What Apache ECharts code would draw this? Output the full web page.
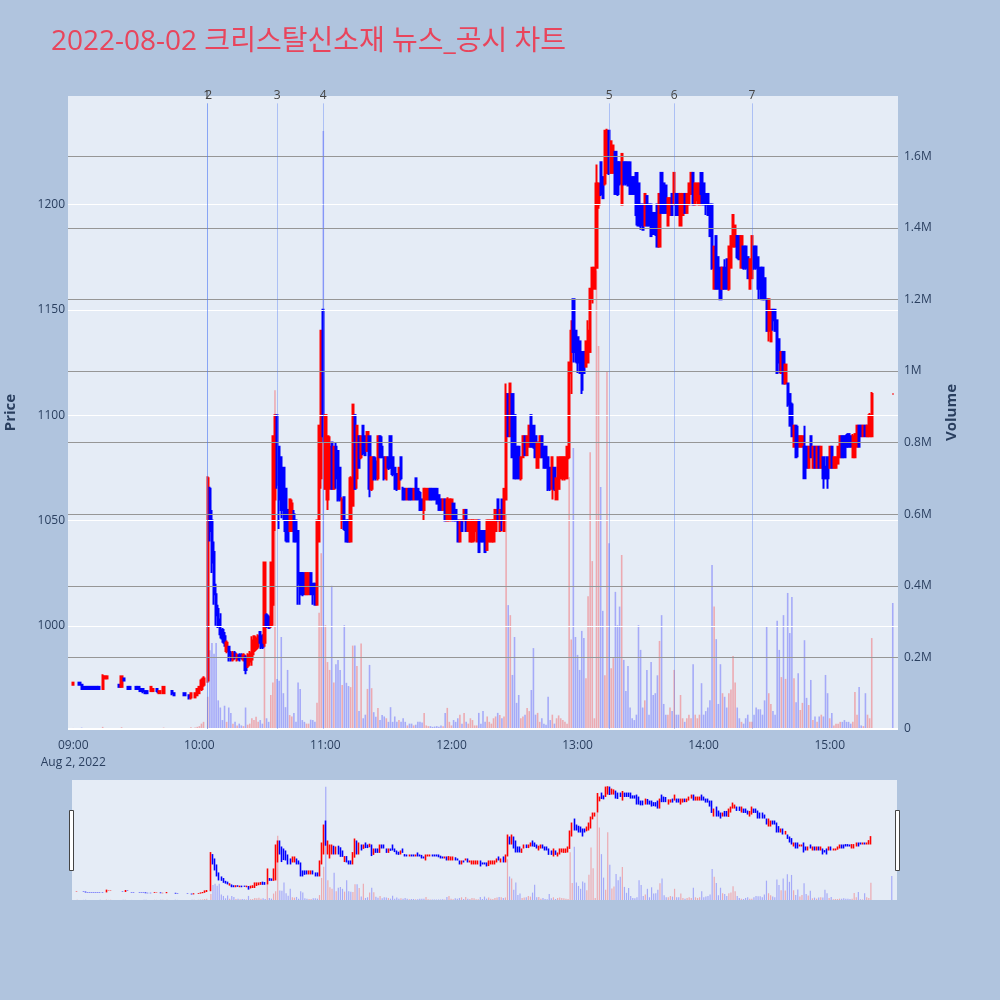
<!DOCTYPE html>
<html><head><meta charset="utf-8">
<script src="https://cdn.jsdelivr.net/npm/echarts@6/dist/echarts.min.js"></script>
<style>html,body{margin:0;padding:0;background:#B0C4DE;}#c{width:1000px;height:1000px;}</style>
</head><body><div id="c"></div>
<script>
// ---- data ----
const times = [
'09:00','09:03','09:04','09:05','09:06','09:07','09:08','09:09','09:10','09:11',
'09:12','09:14','09:15','09:16','09:22','09:23','09:24','09:26','09:27','09:30',
'09:31','09:32','09:33','09:34','09:35','09:37','09:38','09:40','09:41','09:43',
'09:47','09:48','09:53','09:55','09:56','09:58','09:59','10:00','10:01','10:02',
'10:04','10:05','10:06','10:07','10:08','10:09',
'10:10','10:11','10:12','10:13','10:14','10:15','10:16','10:17','10:18','10:19',
'10:20','10:21','10:22','10:23','10:24','10:25','10:26','10:27','10:28','10:29',
'10:30','10:31','10:32','10:33','10:34','10:35','10:36','10:37','10:38','10:39',
'10:40','10:41','10:42','10:43','10:44','10:45','10:46','10:47','10:48','10:49',
'10:50','10:51','10:52','10:53','10:54','10:55','10:56','10:57','10:58','10:59',
'11:00','11:01','11:02','11:03','11:04','11:05','11:06','11:07','11:08','11:09',
'11:10','11:11','11:12','11:13','11:14','11:15','11:16','11:17','11:18','11:19',
'11:20','11:21','11:22','11:23','11:24','11:25','11:26','11:27','11:28','11:29',
'11:30','11:31','11:32','11:33','11:34','11:35','11:36','11:37','11:38','11:39',
'11:40','11:41','11:42','11:43','11:44','11:45','11:46','11:47','11:48','11:49',
'11:50','11:51','11:52','11:53','11:54','11:55','11:56','11:57','11:58','11:59',
'12:00','12:01','12:02','12:03','12:04','12:05','12:06','12:07','12:08','12:09',
'12:10','12:11','12:12','12:13','12:14','12:15','12:16','12:17','12:18','12:19',
'12:20','12:21','12:22','12:23','12:24','12:25','12:26','12:27','12:28','12:29',
'12:30','12:31','12:32','12:33','12:34','12:35','12:36','12:37','12:38','12:39',
'12:40','12:41','12:42','12:43','12:44','12:45','12:46','12:47','12:48','12:49',
'12:50','12:51','12:52','12:53','12:54','12:55','12:56','12:57','12:58','12:59',
'13:00','13:01','13:02','13:03','13:04','13:05','13:06','13:07','13:08','13:09',
'13:10','13:11','13:12','13:13','13:14','13:15','13:16','13:17','13:18','13:19',
'13:20','13:21','13:22','13:23','13:24','13:25','13:26','13:27','13:28','13:29',
'13:30','13:31','13:32','13:33','13:34','13:35','13:36','13:37','13:38','13:39',
'13:40','13:41','13:42','13:43','13:44','13:45','13:46','13:47','13:48','13:49',
'13:50','13:51','13:52','13:53','13:54','13:55','13:56','13:57','13:58','13:59',
'14:00','14:01','14:02','14:03','14:04','14:05','14:06','14:07','14:08','14:09',
'14:10','14:11','14:12','14:13','14:14','14:15','14:16','14:17','14:18','14:19',
'14:20','14:21','14:22','14:23','14:24','14:25','14:26','14:27','14:28','14:29',
'14:30','14:31','14:32','14:33','14:34','14:35','14:36','14:37','14:38','14:39',
'14:40','14:41','14:42','14:43','14:44','14:45','14:46','14:47','14:48','14:49',
'14:50','14:51','14:52','14:53','14:54','14:55','14:56','14:57','14:58','14:59',
'15:00','15:01','15:02','15:03','15:04','15:05','15:06','15:07','15:08','15:09',
'15:10','15:11','15:12','15:13','15:14','15:15','15:16','15:17','15:18','15:19',
'15:20','15:30'
];
const opens = [
972,973,972,971,971,971,971,971,971,971,
971,970,975,975,972,971,975,971,971,971,
971,970,970,969,969,969,969,970,968,968,
969,968,968,967,966,966,967,968,970,972,
974,1065,1050,1035,1015,1008,
1003,998,995,988,990,987,984,987,984,986,
986,984,985,981,983,984,988,989,990,997,
995,992,1005,1004,1000,1010,1060,1100,1085,1080,
1075,1065,1055,1045,1045,1053,1050,1045,1025,1025,
1025,1015,1015,1025,1020,1020,1010,1040,1070,1150,
1065,1060,1065,1087,1065,1085,1083,1075,1050,1061,
1050,1050,1040,1057,1100,1070,1090,1080,1095,1090,
1083,1090,1065,1080,1078,1070,1090,1085,1080,1070,
1080,1090,1080,1075,1072,1065,1080,1065,1065,1060,
1065,1065,1060,1070,1065,1063,1060,1055,1060,1060,
1065,1065,1065,1065,1062,1060,1055,1060,1050,1050,
1052,1058,1055,1050,1040,1050,1050,1055,1045,1040,
1040,1045,1040,1050,1045,1045,1045,1036,1040,1040,
1040,1045,1060,1045,1060,1045,1060,1110,1090,1110,
1100,1085,1085,1070,1080,1090,1081,1085,1100,1095,
1090,1075,1080,1090,1085,1085,1080,1075,1065,1075,
1060,1065,1070,1070,1070,1070,1080,1120,1155,1140,
1137,1135,1130,1130,1123,1125,1130,1155,1160,1170,
1200,1220,1213,1210,1215,1235,1215,1215,1225,1220,
1220,1200,1220,1220,1220,1220,1213,1213,1215,1210,
1200,1200,1190,1204,1200,1200,1196,1196,1200,1180,
1215,1210,1209,1190,1195,1205,1200,1205,1205,1190,
1195,1205,1196,1200,1205,1215,1200,1202,1200,1215,
1210,1205,1205,1200,1200,1160,1185,1175,1170,1160,
1170,1174,1160,1170,1180,1180,1185,1185,1170,1180,
1180,1175,1160,1165,1180,1180,1175,1170,1170,1165,
1155,1140,1135,1150,1150,1145,1136,1120,1130,1115,
1115,1110,1105,1085,1095,1090,1085,1085,1085,1085,
1075,1090,1075,1085,1075,1085,1075,1080,1075,1080,
1075,1085,1075,1075,1077,1080,1090,1090,1090,1091,
1090,1080,1080,1085,1095,1095,1090,1095,1090,1090,
1090,1110
];
const closes = [
973,972,970,970,970,970,970,970,970,970,
970,976,976,976,971,976,974,970,970,970,
970,969,969,968,968,971,970,969,969,971,
968,967,967,966,968,968,970,971,974,975,
1070,1045,1030,1015,1005,1000,
996,994,992,992,986,984,987,985,986,984,
985,986,979,986,987,993,995,994,995,992,
990,1030,1000,999,1030,1090,1100,1067,1060,1055,
1055,1045,1040,1060,1058,1040,1040,1020,1015,1015,
1015,1025,1025,1015,1015,1010,1050,1095,1140,1090,
1100,1090,1085,1065,1085,1070,1060,1060,1060,1046,
1040,1040,1070,1105,1065,1095,1075,1090,1082,1081,
1092,1065,1080,1070,1070,1090,1080,1080,1070,1080,
1075,1075,1072,1065,1065,1075,1070,1060,1060,1065,
1060,1060,1065,1060,1060,1055,1055,1065,1065,1065,
1060,1060,1060,1058,1055,1055,1060,1050,1060,1060,
1060,1050,1050,1040,1050,1045,1055,1045,1050,1050,
1050,1050,1050,1035,1040,1040,1035,1050,1050,1050,
1050,1055,1050,1055,1050,1065,1110,1090,1115,1080,
1070,1070,1070,1080,1090,1081,1090,1095,1085,1085,
1080,1087,1090,1080,1075,1075,1065,1065,1080,1065,
1070,1080,1080,1080,1080,1085,1125,1140,1130,1130,
1125,1120,1112,1120,1135,1140,1160,1170,1170,1210,
1210,1205,1203,1235,1235,1215,1230,1228,1205,1205,
1210,1224,1210,1210,1209,1205,1205,1205,1195,1190,
1190,1188,1205,1190,1190,1185,1186,1186,1180,1205,
1196,1196,1196,1203,1203,1195,1215,1195,1195,1205,
1205,1196,1205,1210,1215,1200,1210,1210,1210,1205,
1200,1200,1195,1185,1170,1180,1160,1160,1155,1170,
1160,1160,1180,1185,1195,1190,1175,1174,1185,1170,
1170,1165,1174,1185,1170,1170,1160,1160,1155,1155,
1140,1155,1150,1145,1140,1120,1125,1130,1115,1124,
1105,1095,1090,1095,1080,1085,1090,1090,1070,1075,
1085,1080,1085,1075,1085,1075,1085,1070,1070,1070,
1085,1075,1080,1080,1085,1090,1080,1080,1085,1085,
1085,1090,1091,1095,1085,1090,1095,1090,1095,1100,
1110,1110
];
const lows = [
972,972,970,970,970,970,970,970,970,970,
970,970,975,975,971,971,974,970,970,970,
970,969,968,968,968,969,969,968,968,968,
967,967,967,965,965,966,967,968,969,971,
973,1040,1025,1010,1000,999,
994,992,990,987,983,983,983,984,983,983,
984,983,977,980,981,981,986,988,989,989,
989,990,999,999,999,1000,1045,1065,1046,1051,
1050,1040,1040,1045,1045,1040,1040,1010,1010,1014,
1015,1015,1015,1015,1010,1010,1010,1040,1065,1087,
1065,1055,1065,1065,1065,1065,1059,1059,1046,1045,
1040,1040,1040,1057,1065,1065,1075,1079,1081,1081,
1083,1061,1064,1069,1069,1069,1080,1080,1069,1069,
1074,1075,1071,1065,1064,1065,1069,1060,1060,1060,
1060,1060,1060,1060,1060,1055,1055,1050,1060,1060,
1060,1060,1060,1058,1055,1055,1055,1050,1050,1050,
1050,1050,1050,1040,1040,1045,1050,1045,1045,1040,
1040,1040,1040,1035,1040,1040,1035,1036,1040,1040,
1040,1045,1050,1045,1045,1045,1060,1090,1090,1080,
1070,1070,1070,1069,1080,1081,1081,1085,1085,1084,
1080,1075,1080,1080,1075,1075,1064,1064,1060,1064,
1060,1065,1070,1069,1069,1070,1079,1110,1125,1125,
1120,1120,1110,1120,1123,1125,1130,1153,1160,1170,
1198,1204,1203,1209,1215,1214,1215,1215,1205,1204,
1209,1200,1209,1209,1209,1205,1205,1205,1190,1190,
1188,1188,1190,1190,1190,1185,1186,1185,1180,1180,
1196,1196,1196,1190,1195,1195,1200,1195,1195,1190,
1195,1196,1196,1200,1205,1200,1200,1200,1200,1200,
1200,1195,1195,1185,1169,1160,1160,1160,1155,1160,
1160,1160,1159,1170,1180,1180,1174,1174,1170,1169,
1169,1165,1160,1165,1169,1169,1155,1155,1155,1155,
1140,1135,1135,1140,1140,1120,1120,1120,1115,1115,
1104,1095,1090,1085,1080,1080,1085,1085,1070,1075,
1075,1080,1075,1075,1075,1075,1075,1065,1070,1065,
1075,1075,1075,1075,1077,1080,1080,1080,1085,1085,
1085,1080,1080,1085,1085,1090,1090,1090,1090,1090,
1090,1110
];
const highs = [
973,973,972,971,971,971,971,971,971,971,
971,977,976,976,972,976,975,971,971,971,
971,970,970,969,969,971,970,970,969,971,
969,968,968,967,968,968,970,971,975,976,
1071,1066,1055,1040,1020,1010,
1006,999,997,993,990,988,988,988,987,987,
987,987,986,987,988,995,995,995,996,997,
996,1030,1006,1005,1030,1090,1100,1100,1085,1080,
1075,1065,1055,1060,1060,1055,1050,1045,1025,1025,
1025,1025,1025,1025,1020,1020,1050,1095,1140,1150,
1100,1090,1090,1087,1085,1087,1083,1075,1061,1061,
1050,1050,1071,1105,1100,1095,1090,1090,1095,1090,
1092,1090,1080,1080,1080,1090,1090,1090,1080,1080,
1080,1090,1080,1075,1072,1075,1080,1066,1065,1065,
1065,1065,1065,1070,1065,1064,1060,1065,1065,1065,
1065,1065,1065,1065,1062,1060,1060,1060,1061,1060,
1060,1058,1055,1050,1050,1050,1055,1055,1050,1050,
1050,1050,1050,1050,1045,1045,1045,1050,1050,1050,
1050,1055,1060,1055,1060,1065,1115,1110,1115,1110,
1100,1085,1085,1080,1090,1090,1090,1095,1100,1095,
1090,1087,1090,1090,1085,1085,1080,1075,1080,1075,
1070,1080,1080,1080,1080,1085,1125,1145,1155,1140,
1137,1135,1130,1130,1135,1145,1160,1170,1170,1219,
1210,1220,1213,1235,1236,1235,1230,1228,1225,1220,
1220,1224,1220,1220,1220,1220,1213,1213,1215,1210,
1200,1200,1205,1204,1200,1200,1196,1196,1200,1205,
1215,1210,1209,1203,1203,1205,1215,1205,1205,1205,
1205,1205,1205,1210,1215,1215,1210,1210,1210,1215,
1210,1205,1205,1200,1200,1180,1185,1175,1170,1170,
1174,1174,1180,1185,1195,1190,1185,1185,1185,1180,
1180,1175,1174,1185,1180,1180,1175,1170,1170,1165,
1155,1155,1150,1150,1150,1145,1136,1130,1130,1124,
1115,1110,1106,1095,1095,1095,1090,1090,1095,1085,
1085,1090,1085,1085,1085,1085,1085,1080,1076,1080,
1085,1085,1080,1080,1085,1090,1090,1090,1091,1091,
1090,1091,1091,1095,1095,1095,1095,1095,1095,1101,
1111,1110
];
const volumes = [
3000,2000,4000,1000,1000,1000,1500,1000,1000,2000,
1000,6000,2000,2000,2000,5000,1000,1000,1000,1000,
1000,2000,2000,1000,1000,3000,2000,2000,2000,4000,
3000,2000,1000,3000,5000,4000,6000,8000,15000,20000,
90000,220000,240000,210000,240000,80000,
60000,25000,65000,20000,60000,45000,15000,20000,10000,15000,
10000,8000,60000,12000,15000,30000,25000,34000,20000,25000,
15000,257000,30000,20000,95000,130000,946000,140000,135000,257000,
100000,61000,165000,39000,35000,45000,20000,130000,112000,25000,
20000,15000,15000,26000,25000,20000,73000,325000,491000,1670000,
290000,187000,165000,400000,130000,181000,193000,165000,123000,290000,
129000,120000,117000,233000,233000,176000,50000,239000,30000,40000,
112000,179000,114000,47000,34000,59000,25000,39000,35000,30000,
20000,61000,20000,35000,20000,25000,20000,30000,20000,10000,
15000,15000,10000,12000,20000,20000,18000,45000,10000,8000,
8000,6000,7000,8000,6000,10000,8000,45000,59000,20000,
10000,25000,20000,30000,40000,15000,45000,20000,15000,30000,
25000,10000,10000,45000,15000,50000,20000,35000,20000,15000,
30000,35000,45000,39000,30000,35000,600000,346000,318000,151000,
257000,73000,95000,30000,35000,40000,59000,50000,109000,226000,
40000,45000,20000,30000,15000,12000,90000,25000,40000,15000,
30000,38000,30000,25000,20000,15000,704000,250000,785000,257000,
207000,165000,274000,254000,142000,371000,773000,469000,30000,1280000,
1070000,676000,330000,150000,997000,519000,170000,198000,383000,290000,
342000,486000,193000,106000,176000,60000,30000,25000,40000,290000,
221000,60000,80000,165000,40000,187000,95000,100000,150000,246000,
318000,70000,40000,40000,60000,50000,165000,40000,40000,95000,
30000,20000,30000,40000,30000,181000,40000,30000,40000,128000,
40000,50000,60000,80000,458000,342000,251000,70000,181000,100000,
90000,60000,100000,110000,204000,130000,60000,30000,20000,15000,
30000,40000,20000,20000,40000,60000,55000,55000,40000,80000,
285000,100000,70000,50000,40000,302000,221000,145000,318000,140000,
380000,268000,369000,142000,75000,156000,53000,73000,248000,87000,
67000,137000,25000,35000,20000,35000,40000,35000,151000,100000,
30000,45000,10000,15000,15000,20000,20000,25000,20000,20000,
15000,20000,103000,40000,117000,10000,8000,100000,40000,30000,
254000,352000
];
const newsTimes = ['10:04','10:04','10:37','10:59','13:15','13:46','14:23'];
const newsLabels = ['1','2','3','4','5','6','7'];
const priceTicks = [1000,1050,1100,1150,1200];
const volumeTicks = [200000,400000,600000,800000,1000000,1200000,1400000,1600000];

// ---- build ----
const pad = n => (n < 10 ? '0' : '') + n;
const axisCats = [];
for (let t = 8 * 60 + 58; t <= 15 * 60 + 32; t++) axisCats.push(pad(Math.floor(t / 60)) + ':' + pad(t % 60));
const idxOf = {}; axisCats.forEach((c, i) => idxOf[c] = i);

const UP = '#FF0000', DOWN = '#0000FF';
const VUP = 'rgba(255,0,0,0.28)', VDOWN = 'rgba(0,0,255,0.28)';
const candleRows = times.map((t, i) => [idxOf[t], opens[i], closes[i], lows[i], highs[i]]);
const volRows = times.map((t, i) => ({ value: [idxOf[t], volumes[i]], itemStyle: { color: closes[i] > opens[i] ? VUP : VDOWN } }));

const FONT = "'Open Sans','Noto Sans CJK KR',sans-serif";
const AXC = '#2a3f5f';
const PMIN = 951, PMAX = 1251.5, VMAX = 1768000;

const newsLines = newsTimes.map((t, i) => {
  const off = i === 0 ? [-1, 0] : (i === 1 ? [1, 0] : [0, 0]);
  const lab = { show: true, formatter: newsLabels[i], position: 'end', distance: 2, color: '#444', fontSize: 12, fontFamily: FONT, offset: off };
  return [{ coord: [idxOf[t], PMIN], label: lab }, { coord: [idxOf[t], 1248], label: lab }];
});

const chart = echarts.init(document.getElementById('c'), null, { renderer: 'canvas' });
chart.setOption({
  animation: false,
  backgroundColor: '#B0C4DE',
  textStyle: { fontFamily: FONT },
  title: {
    text: '2022-08-02 크리스탈신소재 뉴스_공시 차트',
    left: 46, top: 23,
    textStyle: { color: '#E8455C', fontSize: 28, fontWeight: 'normal', fontFamily: FONT }
  },
  grid: [
    { left: 68, right: 102, top: 96, height: 633, show: true, backgroundColor: '#E5ECF6', borderWidth: 0, containLabel: false, outerBoundsMode: 'none' },
    { left: 72, right: 103, top: 780, height: 120, show: true, backgroundColor: '#E5ECF6', borderWidth: 0, containLabel: false, outerBoundsMode: 'none' }
  ],
  xAxis: [
    {
      type: 'category', gridIndex: 0, data: axisCats, boundaryGap: true,
      axisLine: { show: false }, axisTick: { show: false }, splitLine: { show: false },
      axisLabel: {
        interval: (i, v) => v.endsWith(':00') && v >= '09:00' && v <= '15:00',
        formatter: v => v === '09:00' ? '09:00\nAug 2, 2022' : v,
        color: AXC, fontSize: 12, margin: 8, lineHeight: 17, fontFamily: FONT
      }
    },
    { type: 'category', gridIndex: 1, data: axisCats, boundaryGap: true, show: false }
  ],
  yAxis: [
    {
      type: 'value', gridIndex: 0, min: PMIN, max: PMAX, position: 'left',
      name: 'Price', nameLocation: 'middle', nameGap: 50, nameRotate: 90,
      nameTextStyle: { color: AXC, fontSize: 15, fontWeight: 'bold', fontFamily: FONT },
      axisLine: { show: false }, axisTick: { show: false }, splitLine: { show: false },
      axisLabel: { color: AXC, fontSize: 12, margin: 3, fontFamily: FONT, formatter: v => priceTicks.indexOf(v) >= 0 ? String(v) : '' }
    },
    {
      type: 'value', gridIndex: 0, min: 0, max: VMAX, interval: 200000, position: 'right',
      name: 'Volume', nameLocation: 'middle', nameGap: 46, nameRotate: 90,
      nameTextStyle: { color: AXC, fontSize: 15, fontWeight: 'bold', fontFamily: FONT },
      axisLine: { show: false }, axisTick: { show: false }, splitLine: { show: false },
      axisLabel: { color: AXC, fontSize: 12, margin: 6, fontFamily: FONT, formatter: v => v === 0 ? '0' : (volumeTicks.indexOf(v) >= 0 ? (v / 1e6) + 'M' : '') }
    },
    { type: 'value', gridIndex: 1, min: PMIN, max: PMAX, show: false },
    { type: 'value', gridIndex: 1, min: 0, max: VMAX, show: false }
  ],
  graphic: [
    { type: 'rect', z: 100, shape: { x: 69.5, y: 810.5, width: 4, height: 60 }, style: { fill: '#ffffff', stroke: '#444', lineWidth: 1 } },
    { type: 'rect', z: 100, shape: { x: 895.5, y: 810.5, width: 4, height: 60 }, style: { fill: '#ffffff', stroke: '#444', lineWidth: 1 } }
  ],
  series: [
    {
      type: 'line', xAxisIndex: 0, yAxisIndex: 0, data: [], z: 0, silent: true,
      markLine: { silent: true, symbol: ['none', 'none'], label: { show: false }, animation: false,
        lineStyle: { color: '#ffffff', width: 1, type: 'solid' },
        data: priceTicks.map(v => ({ yAxis: v })) }
    },
    {
      type: 'line', xAxisIndex: 0, yAxisIndex: 1, data: [], z: 0, silent: true,
      markLine: { silent: true, symbol: ['none', 'none'], label: { show: false }, animation: false,
        lineStyle: { color: '#969696', width: 1, type: 'solid' },
        data: volumeTicks.map(v => ({ yAxis: v })).concat([{ yAxis: 0, lineStyle: { color: '#ffffff', width: 2 } }]) }
    },
    {
      type: 'bar', xAxisIndex: 0, yAxisIndex: 1, data: volRows, barWidth: 1.6, z: 1, silent: true
    },
    {
      type: 'candlestick', xAxisIndex: 0, yAxisIndex: 0, data: candleRows,
      encode: { x: 0, y: [1, 2, 3, 4] }, barWidth: 1.8, z: 3, silent: true,
      itemStyle: { color: UP, color0: DOWN, borderColor: UP, borderColor0: DOWN, borderColorDoji: UP, borderWidth: 2 },
      markLine: { silent: true, symbol: ['none', 'none'], animation: false,
        lineStyle: { color: 'rgba(80,120,245,0.38)', width: 1, type: 'solid' },
        data: newsLines }
    },
    {
      type: 'bar', xAxisIndex: 1, yAxisIndex: 3, data: volRows, barWidth: 1.2, z: 1, silent: true
    },
    {
      type: 'candlestick', xAxisIndex: 1, yAxisIndex: 2, data: candleRows,
      encode: { x: 0, y: [1, 2, 3, 4] }, barWidth: 1.3, z: 3, silent: true,
      itemStyle: { color: UP, color0: DOWN, borderColor: UP, borderColor0: DOWN, borderColorDoji: UP, borderWidth: 1.6 }
    }
  ]
});
</script>
</body></html>
